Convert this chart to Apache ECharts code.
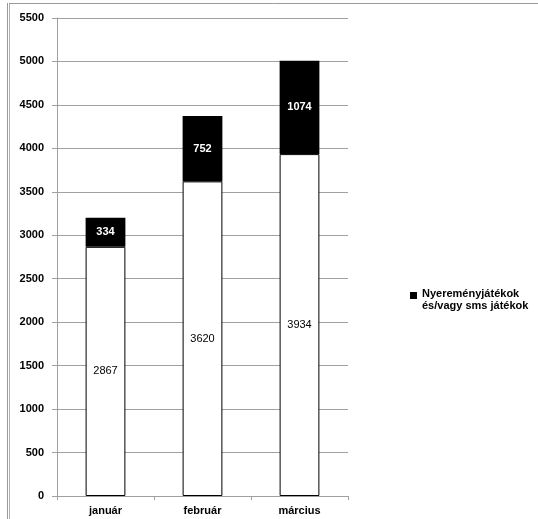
<!DOCTYPE html>
<html>
<head>
<meta charset="utf-8">
<script src="https://cdn.jsdelivr.net/npm/echarts@6/dist/echarts.min.js"></script>
<style>html,body{margin:0;padding:0;background:#fff}#c{width:538px;height:519px}</style>
</head>
<body>
<div id="c"></div>
<script>
const categories = ['január', 'február', 'március'];
const baseName = 'Egyéb';
const baseValues = [2867, 3620, 3934];
const topName = 'Nyereményjátékok\nés/vagy sms játékok';
const topValues = [334, 752, 1074];
const yTicks = [0, 500, 1000, 1500, 2000, 2500, 3000, 3500, 4000, 4500, 5000, 5500];

const FONT = 'Liberation Sans, Arial, sans-serif';
const chart = echarts.init(document.getElementById('c'), null, {renderer: 'canvas'});
chart.setOption({
  animation: false,
  backgroundColor: '#fff',
  textStyle: {fontFamily: FONT},
  graphic: [
    {type: 'line', shape: {x1: 7.5, y1: 3, x2: 7.5, y2: 519}, style: {stroke: '#9a9a9a', lineWidth: 1}},
    {type: 'line', shape: {x1: 9.5, y1: 3, x2: 9.5, y2: 519}, style: {stroke: '#b0b0b0', lineWidth: 1}},
    {type: 'line', shape: {x1: 9, y1: 3.5, x2: 538, y2: 3.5}, style: {stroke: '#9a9a9a', lineWidth: 1}}
  ],
  grid: {left: 57, right: 190, top: 18, bottom: 23, containLabel: false},
  legend: {
    data: [topName],
    left: 405,
    top: 283,
    orient: 'vertical',
    itemWidth: 7,
    itemHeight: 24,
    icon: 'path://M0,0h0.01v0.01h-0.01z M0,4h7v7h-7z M0,24h0.01v0.01h-0.01z',
    textStyle: {fontFamily: FONT, fontSize: 11, fontWeight: 'bold', color: '#000', lineHeight: 12}
  },
  xAxis: {
    type: 'category',
    data: categories,
    axisLine: {lineStyle: {color: '#a0a0a0', width: 1}},
    axisTick: {show: true, length: 4, interval: 0, lineStyle: {color: '#a0a0a0'}},
    axisLabel: {color: '#000', fontFamily: FONT, fontSize: 11, fontWeight: 'bold', margin: 9}
  },
  yAxis: {
    type: 'value',
    min: yTicks[0],
    max: yTicks[yTicks.length - 1],
    interval: yTicks[1] - yTicks[0],
    axisLine: {show: true, lineStyle: {color: '#a0a0a0', width: 1}},
    axisTick: {show: true, length: 5, lineStyle: {color: '#a0a0a0'}},
    splitLine: {lineStyle: {color: '#a0a0a0', width: 1}},
    axisLabel: {color: '#000', fontFamily: FONT, fontSize: 11, fontWeight: 'bold', margin: 13,
      formatter: function (v) { return String(v); }}
  },
  series: [
    {
      name: baseName,
      type: 'bar',
      stack: 'total',
      data: baseValues,
      barWidth: '41%',
      itemStyle: {color: '#ffffff', borderColor: '#000', borderWidth: 1},
      label: {show: true, position: 'inside', color: '#000', fontFamily: FONT, fontSize: 11}
    },
    {
      name: topName,
      type: 'bar',
      stack: 'total',
      data: topValues,
      barWidth: '41%',
      itemStyle: {color: '#000000'},
      label: {show: true, position: 'inside', color: '#fff', fontFamily: FONT, fontSize: 11, fontWeight: 'bold'}
    }
  ]
});
</script>
</body>
</html>
